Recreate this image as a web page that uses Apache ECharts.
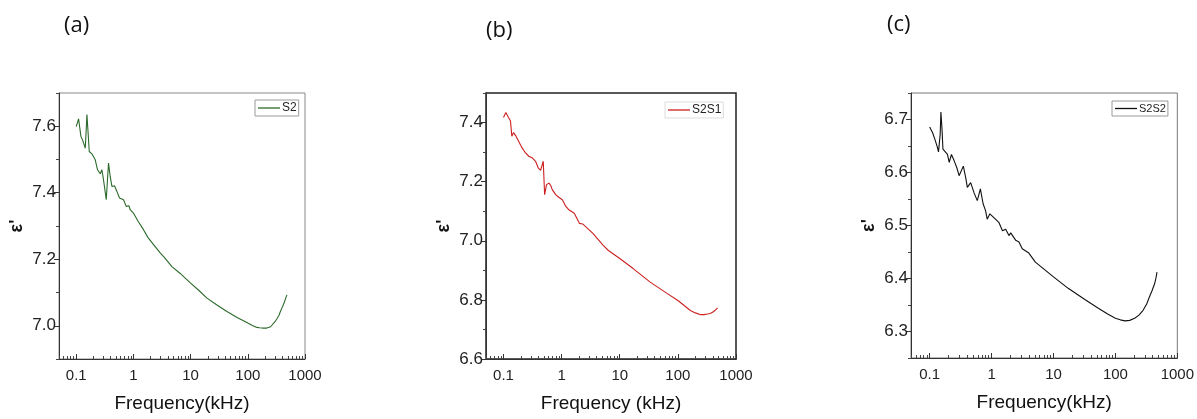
<!DOCTYPE html>
<html><head><meta charset="utf-8">
<script src="https://cdn.jsdelivr.net/npm/echarts@6/dist/echarts.min.js"></script>
<style>html,body{margin:0;padding:0;background:#fff}#c{width:1197px;height:419px}</style>
</head><body><div id="c"></div>
<script>
// ---- data ----
const panelTitles = ['(a)', '(b)', '(c)'];
const seriesNames = ['S2', 'S2S1', 'S2S2'];
const xAxisNames = ['Frequency(kHz)', 'Frequency (kHz)', 'Frequency(kHz)'];
const yAxisName = "\u03b5'";
const xTickValues = [0.1, 1, 10, 100, 1000];
const xMinorValues = [0.05,0.06,0.07,0.08,0.09, 0.2,0.3,0.4,0.5,0.6,0.7,0.8,0.9, 2,3,4,5,6,7,8,9, 20,30,40,50,60,70,80,90, 200,300,400,500,600,700,800,900];

const yTicksA = [7.0, 7.2, 7.4, 7.6];
const yMinorA = [6.9, 7.1, 7.3, 7.5, 7.7];
const yTicksB = [6.6, 6.8, 7.0, 7.2, 7.4];
const yMinorB = [6.7, 6.9, 7.1, 7.3, 7.5];
const yTicksC = [6.3, 6.4, 6.5, 6.6, 6.7];
const yMinorC = [6.25, 6.35, 6.45, 6.55, 6.65, 6.75];

const freqA = [0.1,0.110,0.121,0.129,0.134,0.144,0.154,0.160,0.169,0.188,0.215,0.236,0.263,0.281,0.300,0.335,0.367,0.393,0.421,0.467,0.515,0.571,0.671,0.748,0.834,0.879,1.0,1.2,1.5,1.8,2.25,2.94,3.5,4.71,6.5,10,14,19.3,28,43.1,65,100,120,144,160,180,215,250,270,301,325,350,370,394,420,440,460,483];
const epsA  = [7.599,7.622,7.569,7.559,7.564,7.534,7.635,7.59,7.524,7.517,7.499,7.469,7.457,7.469,7.439,7.379,7.489,7.449,7.419,7.421,7.404,7.384,7.379,7.359,7.361,7.349,7.339,7.315,7.289,7.265,7.244,7.219,7.205,7.178,7.158,7.128,7.106,7.083,7.064,7.043,7.025,7.008,7.001,6.995,6.994,6.993,6.993,6.997,7.003,7.013,7.022,7.031,7.042,7.053,7.064,7.073,7.083,7.093];

const freqB = [0.1,0.1097,0.122,0.132,0.139,0.149,0.164,0.182,0.208,0.238,0.272,0.310,0.356,0.395,0.435,0.483,0.51,0.55,0.606,0.65,0.69,0.79,0.88,1.03,1.18,1.35,1.65,2.02,2.3,3.45,5.15,6.3,10,17,33.4,65,100,130,164,200,246,280,322,360,395,440,482];
const epsB  = [7.417,7.434,7.417,7.405,7.354,7.366,7.354,7.337,7.315,7.298,7.286,7.281,7.269,7.247,7.238,7.269,7.156,7.19,7.195,7.187,7.173,7.156,7.148,7.139,7.116,7.104,7.093,7.059,7.057,7.025,6.985,6.968,6.94,6.906,6.86,6.822,6.798,6.780,6.764,6.756,6.750,6.750,6.752,6.754,6.758,6.765,6.773];

const freqC = [0.1,0.1117,0.122,0.134,0.139,0.148,0.152,0.158,0.164,0.176,0.194,0.207,0.225,0.249,0.275,0.299,0.35,0.383,0.406,0.46,0.52,0.588,0.66,0.73,0.80,0.85,0.94,1.09,1.31,1.50,1.69,1.91,2.04,2.46,2.77,3.13,4.0,5.1,10,17.5,32.6,53,75,100,120,143,170,205,240,280,320,354,390,430,450,470];
const epsC  = [6.686,6.675,6.662,6.647,6.639,6.672,6.714,6.684,6.644,6.641,6.634,6.619,6.634,6.622,6.609,6.594,6.612,6.59,6.572,6.581,6.562,6.547,6.569,6.541,6.528,6.512,6.522,6.515,6.506,6.49,6.493,6.481,6.486,6.472,6.469,6.456,6.448,6.431,6.403,6.381,6.360,6.344,6.333,6.325,6.322,6.320,6.321,6.325,6.331,6.34,6.352,6.365,6.377,6.39,6.400,6.412];

// ---- layout / style ----
const labelFont = '"Liberation Sans Narrow","Liberation Sans",Arial,sans-serif';
const panels = [
  {freq: freqA, eps: epsA, yT: yTicksA, yM: yMinorA, ymin: 6.9, ymax: 7.7, color: '#2b6a2b',
   grid: {left: 59, top: 93, right: 892, bottom: 60}, border: '#8a8a8a', borderW: 1,
   title: {left: 59, top: 10}, legend: {left: 255, top: 100, border: '#9a9a9a', fs: 12}},
  {freq: freqB, eps: epsB, yT: yTicksB, yM: yMinorB, ymin: 6.6, ymax: 7.5, color: '#cc2020',
   grid: {left: 486, top: 93, right: 461, bottom: 60}, border: '#222', borderW: 1.5,
   title: {left: 481, top: 15}, legend: {left: 665, top: 102, border: '#dddddd', fs: 12}},
  {freq: freqC, eps: epsC, yT: yTicksC, yM: yMinorC, ymin: 6.25, ymax: 6.75, color: '#111111',
   grid: {left: 911, top: 93, right: 17, bottom: 61}, border: '#777', borderW: 1,
   title: {left: 882, top: 9}, legend: {left: 1112, top: 101, border: '#9a9a9a', fs: 11}}
];

const option = {animation: false, backgroundColor: '#fff', title: [], grid: [], xAxis: [], yAxis: [], series: [], legend: []};

panels.forEach((p, i) => {
  option.title.push({text: panelTitles[i], left: p.title.left, top: p.title.top,
    textStyle: {fontSize: 22, fontWeight: 'normal', color: '#111', fontFamily: '"Open Sans",sans-serif'}});
  option.grid.push(Object.assign({show: true, borderColor: p.border, borderWidth: p.borderW, backgroundColor: 'transparent'}, p.grid));
  option.xAxis.push({
    type: 'log', logBase: 10, gridIndex: i, min: 0.05, max: 1000,
    axisLine: {show: true, lineStyle: {color: '#333', width: 1}},
    axisTick: {show: true, inside: true, length: 5, customValues: xTickValues, lineStyle: {color: '#333'}},
    axisLabel: {customValues: xTickValues, formatter: v => String(+v.toPrecision(3)), fontSize: 15, color: '#222', margin: 9, fontFamily: labelFont},
    splitLine: {show: false}, minorTick: {show: false},
    name: xAxisNames[i], nameLocation: 'middle', nameGap: 35,
    nameTextStyle: {fontSize: 19, color: '#111', fontFamily: labelFont}
  });
  option.xAxis.push({
    type: 'log', logBase: 10, gridIndex: i, min: 0.05, max: 1000, position: 'bottom',
    axisLine: {show: false},
    axisTick: {show: true, inside: true, length: 3, customValues: xMinorValues, lineStyle: {color: '#444'}},
    axisLabel: {show: false}, splitLine: {show: false}
  });
  option.yAxis.push({
    type: 'value', gridIndex: i, min: p.ymin, max: p.ymax,
    axisLine: {show: true, lineStyle: {color: '#333', width: 1}},
    axisTick: {show: true, inside: false, length: 5, customValues: p.yT, lineStyle: {color: '#333'}},
    axisLabel: {customValues: p.yT, formatter: v => Number(v).toFixed(1), fontSize: 17, color: '#222', margin: 3, fontFamily: labelFont},
    splitLine: {show: false},
    name: yAxisName, nameLocation: 'middle', nameRotate: 90, nameGap: 33,
    nameTextStyle: {fontSize: 18, fontWeight: 'bold', color: '#111', fontFamily: labelFont}
  });
  option.yAxis.push({
    type: 'value', gridIndex: i, min: p.ymin, max: p.ymax, position: 'left',
    axisLine: {show: false},
    axisTick: {show: true, inside: false, length: 3, customValues: p.yM, lineStyle: {color: '#444'}},
    axisLabel: {show: false}, splitLine: {show: false}
  });
  option.series.push({
    name: seriesNames[i], type: 'line', xAxisIndex: 2 * i, yAxisIndex: 2 * i,
    data: p.freq.map((f, k) => [f, p.eps[k]]),
    showSymbol: false, symbol: 'none', smooth: false,
    lineStyle: {color: p.color, width: 1.1}, itemStyle: {color: p.color}
  });
  option.legend.push({
    data: [seriesNames[i]], left: p.legend.left, top: p.legend.top,
    orient: 'horizontal', padding: [2, 2, 2, 3],
    borderColor: p.legend.border, borderWidth: 1,
    icon: 'rect', itemWidth: 22, itemHeight: 1.3, itemGap: 2,
    textStyle: {fontSize: p.legend.fs, color: '#222', fontFamily: labelFont, padding: [0, 0, 0, -3]},
    selectedMode: false
  });
});

const chart = echarts.init(document.getElementById('c'), null, {renderer: 'canvas'});
chart.setOption(option);
</script>
</body></html>
